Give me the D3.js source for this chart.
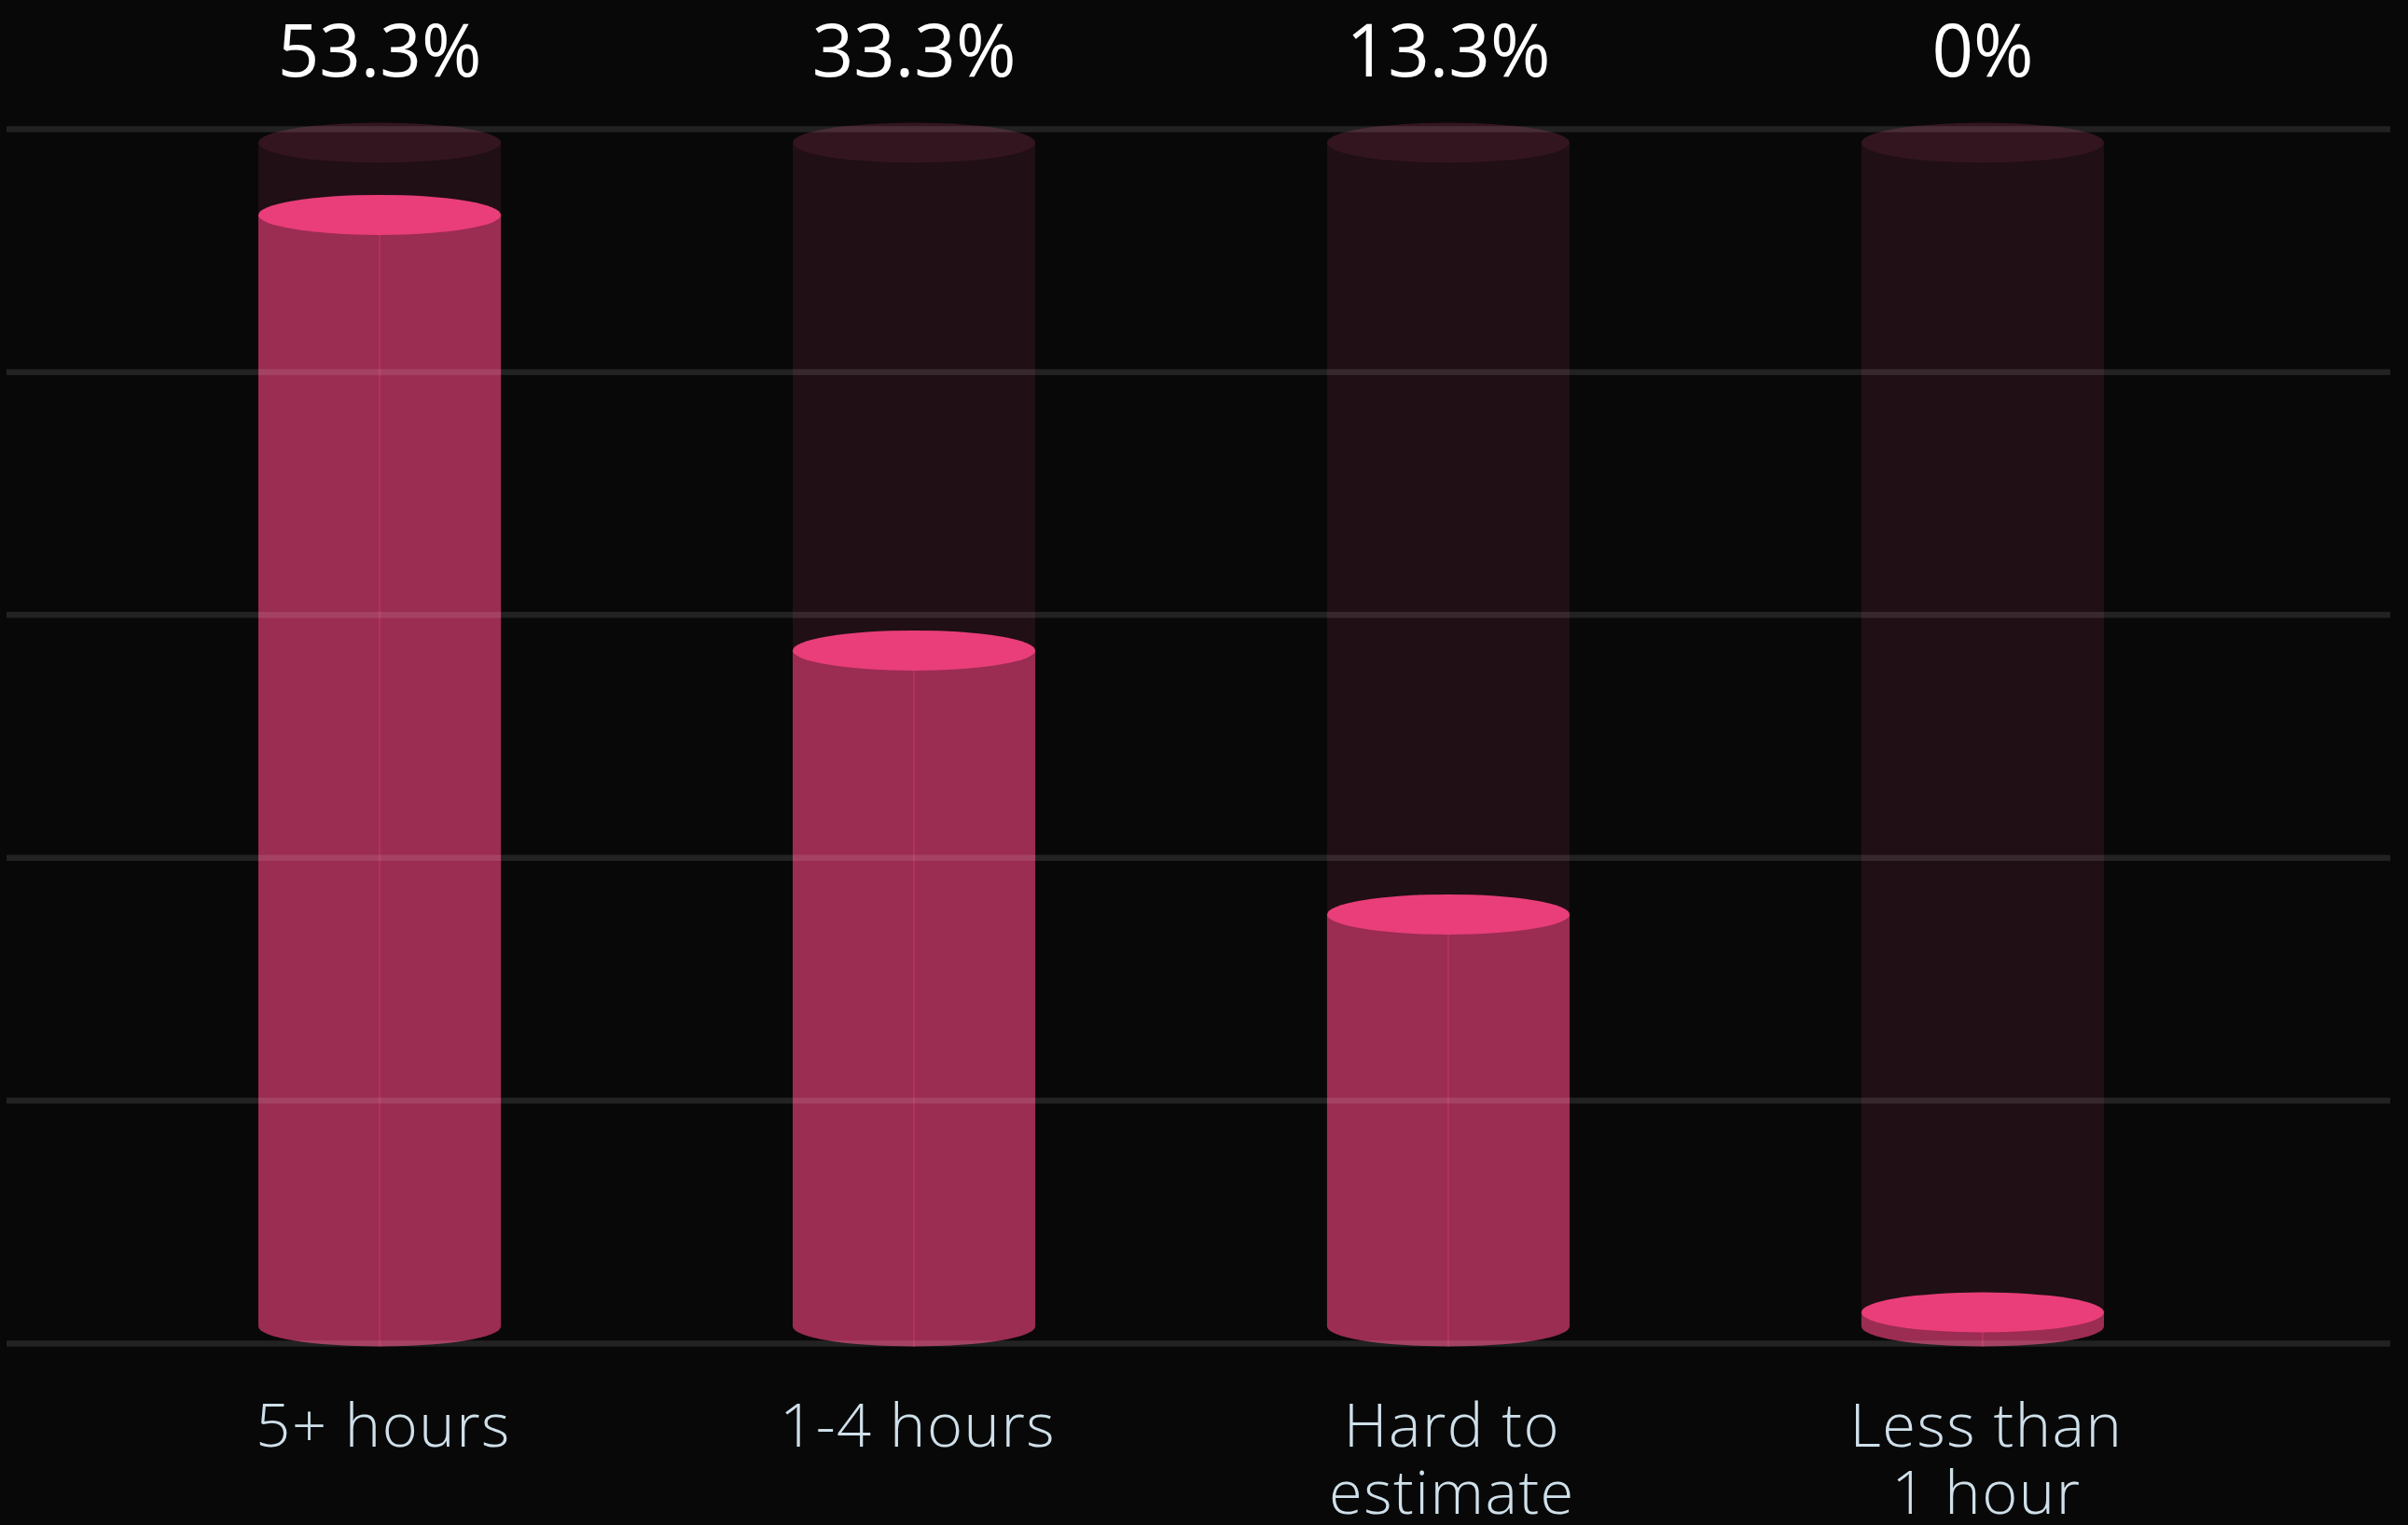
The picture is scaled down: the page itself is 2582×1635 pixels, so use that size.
<!DOCTYPE html>
<html>
<head>
<meta charset="utf-8">
<script src="https://cdn.jsdelivr.net/npm/d3@7"></script>
<style>
  html, body { margin: 0; padding: 0; background: #080808; }
  svg { display: block; }
</style>
</head>
<body>
<div id="chart"></div>
<script>
// Survey answers
let categories = ["5+ hours", "1-4 hours", "Hard to\nestimate", "Less than\n1 hour"];
let shareLabels = ["53.3%", "33.3%", "13.3%", "0%"];
// how full each cylinder is drawn (percent of the cylinder)
let fillLevels = [93.9, 57.1, 34.8, 0];
let gridTicks = [0, 20, 40, 60, 80, 100];

let width = 2582,
    height = 1635;

let svg = d3.select("#chart")
      .append("svg")
      .attr("width", width)
      .attr("height", height);

svg.append("rect")
    .attr("width", width)
    .attr("height", height)
    .attr("fill", "#080808");

let x = d3.scaleBand()
      .domain(categories)
      .range([277, 2256])
      .paddingInner(0.546)
      .paddingOuter(0);

let y = d3.scaleLinear()
      .domain([0, 100])
      .range([1422, 153]);

let yGrid = d3.scaleLinear()
      .domain([0, 100])
      .range([1440.5, 138.5]);

let rx = x.bandwidth() / 2,
    ry = 21.5,
    minHeight = 15;

// body of a cylinder: straight sides plus the rounded bottom
function body(x0, yTop, yBase) {
  let x1 = x0 + x.bandwidth();
  return "M" + x0 + "," + yTop +
         "L" + x0 + "," + yBase +
         "A" + rx + "," + ry + " 0 0 0 " + x1 + "," + yBase +
         "L" + x1 + "," + yTop + "Z";
}

let bars = svg.selectAll("g.bar")
      .data(categories)
      .enter().append("g")
      .attr("class", "bar");

// empty track
bars.append("path")
    .attr("d", function(d) { return body(x(d), y(100), y(0)); })
    .attr("fill", "#200f15");

bars.append("ellipse")
    .attr("cx", function(d) { return x(d) + rx; })
    .attr("cy", y(100))
    .attr("rx", rx)
    .attr("ry", ry)
    .attr("fill", "#331520");

// filled part
function topY(i) {
  return Math.min(y(fillLevels[i]), y(0) - minHeight);
}

bars.append("path")
    .attr("d", function(d, i) { return body(x(d), topY(i), y(0)); })
    .attr("fill", "#9b2c52");

bars.append("line")
    .attr("x1", function(d) { return x(d) + rx; })
    .attr("x2", function(d) { return x(d) + rx; })
    .attr("y1", function(d, i) { return topY(i); })
    .attr("y2", y(0) + ry)
    .attr("stroke", "#c93a6e")
    .attr("stroke-width", 1.5)
    .attr("stroke-opacity", 0.6);

bars.append("ellipse")
    .attr("cx", function(d) { return x(d) + rx; })
    .attr("cy", function(d, i) { return topY(i); })
    .attr("rx", rx)
    .attr("ry", ry)
    .attr("fill", "#e93e79");

// grid lines on top, faint
svg.selectAll("line.grid")
    .data(gridTicks)
    .enter().append("line")
    .attr("class", "grid")
    .attr("x1", 7)
    .attr("x2", 2563)
    .attr("y1", function(d) { return yGrid(d); })
    .attr("y2", function(d) { return yGrid(d); })
    .attr("stroke", "#ffffff")
    .attr("stroke-opacity", 0.105)
    .attr("stroke-width", 6.5);

// value labels
svg.selectAll("text.value")
    .data(shareLabels)
    .enter().append("text")
    .attr("class", "value")
    .attr("x", function(d, i) { return x(categories[i]) + rx; })
    .attr("y", 82)
    .attr("text-anchor", "middle")
    .style("font-family", "'Open Sans', sans-serif")
    .style("font-size", "78px")
    .style("font-weight", 400)
    .style("fill", "#ffffff")
    .text(function(d) { return d; });

// category labels
let cat = svg.selectAll("text.cat")
      .data(categories)
      .enter().append("text")
      .attr("class", "cat")
      .attr("text-anchor", "middle")
      .style("font-family", "'Open Sans', sans-serif")
      .style("font-size", "65px")
      .style("font-weight", 300)
      .style("letter-spacing", "1.5px")
      .style("fill", "#cfe0ea");

cat.selectAll("tspan")
    .data(function(d) { return d.split("\n").map(function(t) { return { text: t, cat: d }; }); })
    .enter().append("tspan")
    .attr("x", function(d) { return x(d.cat) + rx + 4; })
    .attr("y", function(d, i) { return 1551 + i * 72; })
    .text(function(d) { return d.text; });
</script>
</body>
</html>
